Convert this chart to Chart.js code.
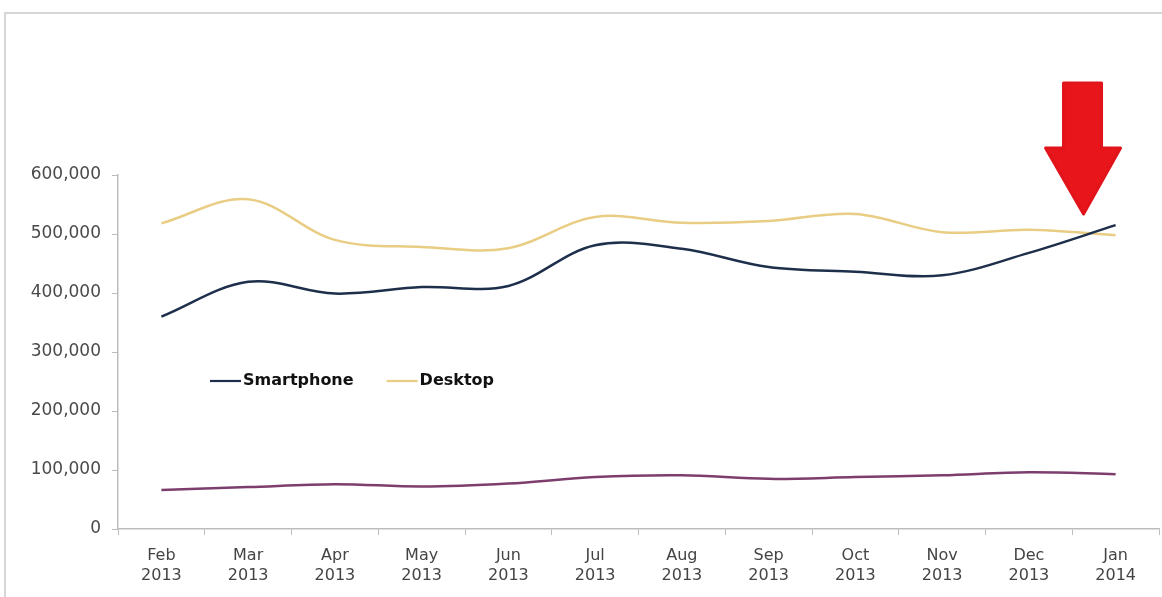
<!DOCTYPE html>
<html>
<head>
<meta charset="utf-8">
<script src="https://cdn.jsdelivr.net/npm/chart.js@4.4.1/dist/chart.umd.min.js"></script>
<style>
  html, body { margin: 0; padding: 0; background: #ffffff; }
  #wrap { position: relative; width: 1162px; height: 597px; }
  #frame { position: absolute; left: 4px; top: 12px; right: 0; bottom: 0;
           border-left: 2px solid #d6d6d6; border-top: 2px solid #d6d6d6; pointer-events: none; }
  canvas { position: absolute; left: 0; top: 0; }
</style>
</head>
<body>
<div id="wrap">
  <canvas id="c" width="1162" height="597"></canvas>
  <div id="frame"></div>
</div>
<script>
const categories = [
  ['Feb','2013'], ['Mar','2013'], ['Apr','2013'], ['May','2013'], ['Jun','2013'], ['Jul','2013'],
  ['Aug','2013'], ['Sep','2013'], ['Oct','2013'], ['Nov','2013'], ['Dec','2013'], ['Jan','2014']
];
const smartphone = [360000, 419000, 399000, 410000, 412000, 481000, 475000, 444000, 436000, 430000, 468000, 515000];
const desktop    = [518000, 559000, 490000, 478000, 476000, 529000, 519000, 522000, 534000, 503000, 507000, 498000];
const third      = [66000, 71000, 76000, 72000, 77000, 88000, 91000, 85000, 88000, 91000, 96000, 93000];
const yTicks     = [0, 100000, 200000, 300000, 400000, 500000, 600000];
const legendNames = ['Smartphone', 'Desktop'];

const colors = { smartphone: '#1d2f4b', desktop: '#e9cd84', third: '#7d3e6d' };
const FONT = 'DejaVu Sans, Verdana, sans-serif';

const legendPlugin = {
  id: 'innerLegend',
  afterDatasetsDraw(chart) {
    const ctx = chart.ctx;
    ctx.save();
    let x = 210, y = 381;
    chart.data.datasets.forEach(ds => {
      if (!legendNames.includes(ds.label)) return;
      ctx.strokeStyle = ds.borderColor;
      ctx.lineWidth = 2.2;
      ctx.beginPath(); ctx.moveTo(x, y); ctx.lineTo(x + 31, y); ctx.stroke();
      ctx.font = 'bold 16px ' + FONT;
      ctx.fillStyle = '#111111';
      ctx.textBaseline = 'middle';
      ctx.fillText(ds.label, x + 33, y);
      x += 33 + ctx.measureText(ds.label).width + 33;
    });
    ctx.restore();
  }
};

const arrowPlugin = {
  id: 'arrow',
  afterDraw(chart) {
    const xs = chart.scales.x, ys = chart.scales.y;
    const tipX = xs.getPixelForValue(10) + 0.63 * (xs.getPixelForValue(11) - xs.getPixelForValue(10));
    const tipY = ys.getPixelForValue(534000);
    const ctx = chart.ctx;
    ctx.save();
    ctx.fillStyle = '#e8151b';
    ctx.strokeStyle = '#e0141a';
    ctx.lineWidth = 3;
    ctx.lineJoin = 'round';
    ctx.beginPath();
    ctx.moveTo(tipX, tipY);
    ctx.lineTo(tipX - 38, tipY - 66);
    ctx.lineTo(tipX - 20, tipY - 66);
    ctx.lineTo(tipX - 20, tipY - 131);
    ctx.lineTo(tipX + 18, tipY - 131);
    ctx.lineTo(tipX + 18, tipY - 66);
    ctx.lineTo(tipX + 37, tipY - 66);
    ctx.closePath();
    ctx.fill();
    ctx.stroke();
    ctx.restore();
  }
};

new Chart(document.getElementById('c'), {
  type: 'line',
  data: {
    labels: categories,
    datasets: [
      { label: 'Smartphone', data: smartphone, borderColor: colors.smartphone, borderWidth: 2.5, tension: 0.35, pointRadius: 0, fill: false },
      { label: 'Desktop', data: desktop, borderColor: colors.desktop, borderWidth: 2.5, tension: 0.35, pointRadius: 0, fill: false },
      { label: '', data: third, borderColor: colors.third, borderWidth: 2.5, tension: 0.35, pointRadius: 0, fill: false }
    ]
  },
  options: {
    responsive: false,
    animation: false,
    events: [],
    layout: { padding: { top: 175, left: 0, right: 3, bottom: 0 } },
    plugins: { legend: { display: false }, tooltip: { enabled: false } },
    scales: {
      x: {
        offset: true,
        grid: { display: true, drawOnChartArea: false, drawTicks: true, tickLength: 6, offset: true, color: '#bdbdbd' },
        border: { display: true, color: '#bdbdbd', width: 1.5 },
        ticks: { color: '#444444', font: { family: FONT, size: 16, lineHeight: 1.3 }, padding: 10, maxRotation: 0, autoSkip: false },
        afterFit(scale) { scale.height = 68; }
      },
      y: {
        min: 0, max: 600000,
        afterBuildTicks(scale) { scale.ticks = yTicks.map(v => ({ value: v })); },
        grid: { display: true, drawOnChartArea: false, drawTicks: true, tickLength: 6, color: '#bdbdbd' },
        border: { display: true, color: '#bdbdbd', width: 1.5 },
        ticks: { color: '#4a4a4a', font: { family: FONT, size: 17 }, padding: 11,
                 callback: v => Number(v).toLocaleString('en-US') },
        afterFit(scale) { scale.width = 118; }
      }
    }
  },
  plugins: [legendPlugin, arrowPlugin]
});
</script>
</body>
</html>
